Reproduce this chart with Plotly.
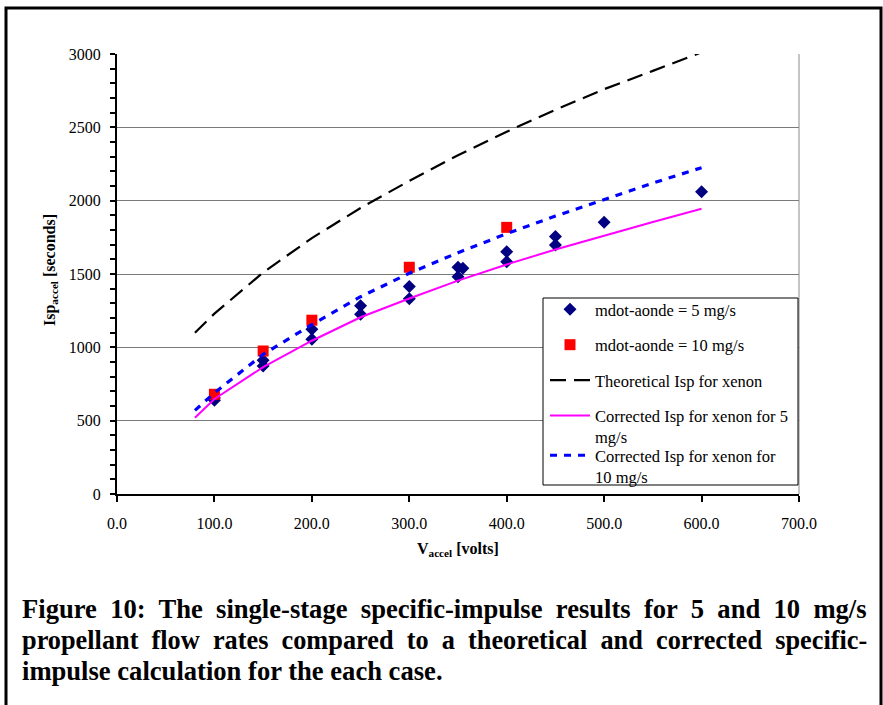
import plotly.graph_objects as go

# ---- data ----
x5 = [100, 100, 150, 150, 200, 200, 250, 250, 300, 300, 350, 355, 350, 400, 400, 450, 450, 500, 600]
y5 = [655, 640, 912, 873, 1123, 1055, 1284, 1225, 1414, 1332, 1546, 1540, 1482, 1652, 1584, 1755, 1698, 1852, 2061]

x10 = [100, 150, 200, 300, 400]
y10 = [680, 975, 1185, 1546, 1818]

x_curve = [80, 100, 150, 200, 250, 300, 350, 400, 450, 500, 550, 600]
theo_xenon = [1100, 1230, 1510, 1745, 1950, 2135, 2310, 2470, 2620, 2760, 2885, 3012]
corr_5 = [520, 648, 865, 1045, 1205, 1333, 1455, 1565, 1667, 1762, 1855, 1945]
corr_10 = [570, 690, 952, 1155, 1345, 1505, 1645, 1775, 1895, 2010, 2120, 2225]

x_ticks = [0, 100, 200, 300, 400, 500, 600, 700]
y_ticks = [0, 500, 1000, 1500, 2000, 2500, 3000]

caption_lines = [
    "Figure 10: The single-stage specific-impulse results for 5 and 10 mg/s",
    "propellant flow rates compared to a theoretical and corrected specific-",
    "impulse calculation for the each case.",
]
caption_justify = [True, True, False]
caption_sizes = [26.6, 26.3, 26.6]

FONT = "Liberation Serif"

# ---- layout geometry (pixels) ----
W, H = 883, 705
L, R, T, B = 117, 799, 54, 494
pw, ph = R - L, B - T


def px(xp):
    return (xp - L) / pw


def py(yp):
    return (B - yp) / ph


fig = go.Figure()

fig.add_trace(go.Scatter(
    x=x5, y=y5, mode="markers", name="mdot-aonde = 5 mg/s",
    marker=dict(symbol="diamond", size=10, color="#000080"),
    legendgroup="g1"))
fig.add_trace(go.Scatter(
    x=x10, y=y10, mode="markers", name="mdot-aonde = 10 mg/s",
    marker=dict(symbol="square", size=11, color="#ff0000"),
    legendgroup="g2"))
fig.add_trace(go.Scatter(
    x=x_curve, y=theo_xenon, mode="lines", name="Theoretical Isp for xenon",
    line=dict(color="black", width=2.2, dash="16px,8px"),
    legendgroup="g3"))
fig.add_trace(go.Scatter(
    x=x_curve, y=corr_5, mode="lines", name="Corrected Isp for xenon for 5<br>mg/s",
    line=dict(color="#ff00ff", width=2),
    legendgroup="g4"))
fig.add_trace(go.Scatter(
    x=x_curve, y=corr_10, mode="lines", name="Corrected Isp for xenon for<br>10 mg/s",
    line=dict(color="#0000ff", width=3.2, dash="7px,7px"),
    legendgroup="g5", legend="legend2"))

legend_common = dict(
    xanchor="left", yanchor="top",
    bgcolor="rgba(0,0,0,0)", borderwidth=0,
    font=dict(family=FONT, size=16.5, color="black"),
    tracegroupgap=11, itemwidth=40, valign="top",
    traceorder="grouped",
)

fig.update_layout(
    width=W, height=H,
    margin=dict(l=L, r=W - R, t=T, b=H - B),
    paper_bgcolor="white", plot_bgcolor="white",
    font=dict(family=FONT, size=16, color="black"),
    showlegend=True,
    legend=dict(x=px(545), y=py(292), **legend_common),
    legend2=dict(x=px(545), y=py(438), **legend_common),
    xaxis=dict(
        range=[0, 700], tickvals=x_ticks, tickformat=".1f",
        showgrid=False, zeroline=False,
        showline=True, linecolor="black", linewidth=2,
        ticks="outside", ticklen=6, tickwidth=1.5, tickcolor="black",
        ticklabelstandoff=8,
        tickfont=dict(family=FONT, size=16),
    ),
    yaxis=dict(
        range=[0, 3000], tickvals=y_ticks,
        showgrid=True, gridcolor="#7a7a7a", gridwidth=1,
        zeroline=False,
        showline=True, linecolor="black", linewidth=2,
        ticks="outside", ticklen=5, tickwidth=1.5, tickcolor="black",
        ticklabelstandoff=6,
        minor=dict(dtick=100, ticks="outside", ticklen=5, tickwidth=1.5,
                   tickcolor="black", showgrid=False),
        tickfont=dict(family=FONT, size=16),
    ),
)

shapes = [
    # right border of plot area
    dict(type="line", xref="paper", yref="paper", x0=1, x1=1, y0=0, y1=1,
         line=dict(color="#8a8a8a", width=1)),
    # legend box
    dict(type="rect", xref="paper", yref="paper", layer="above",
         x0=px(543), x1=px(798), y0=py(485), y1=py(298),
         fillcolor="white", line=dict(color="black", width=1)),
    # outer frame
    dict(type="rect", xref="paper", yref="paper",
         x0=px(6), x1=px(881), y0=py(712), y1=py(8),
         line=dict(color="black", width=3)),
]
fig.update_layout(shapes=shapes)

annotations = [
    dict(text="<b>V<sub>accel</sub> [volts]</b>", xref="paper", yref="paper",
         x=0.5, y=py(549), xanchor="center", yanchor="middle", showarrow=False,
         font=dict(family=FONT, size=16)),
    dict(text="<b>Isp<sub>accel</sub> [seconds]</b>", xref="paper", yref="paper",
         x=px(50), y=py(270), xanchor="center", yanchor="middle", showarrow=False,
         textangle=-90, font=dict(family=FONT, size=16)),
]
for i, (line, just, fs) in enumerate(zip(caption_lines, caption_justify, caption_sizes)):
    txt = line.replace(" ", "  ") if just else line
    annotations.append(dict(
        text="<b>" + txt + "</b>", xref="paper", yref="paper",
        x=px(20), y=py(609 + 31 * i), xanchor="left", yanchor="middle",
        showarrow=False, font=dict(family=FONT, size=fs)))
fig.update_layout(annotations=annotations)

fig.write_html("out.html")
